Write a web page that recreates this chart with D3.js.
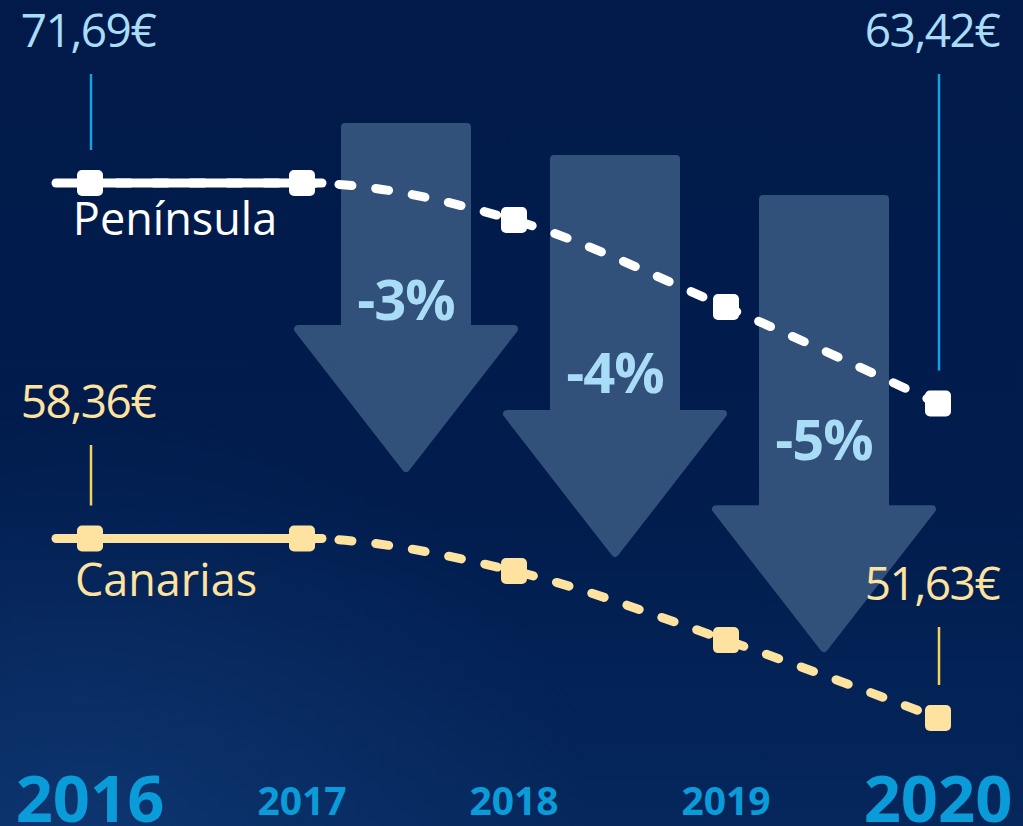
<!DOCTYPE html>
<html><head><meta charset="utf-8">
<script src="https://cdn.jsdelivr.net/npm/d3@7"></script>
<style>html,body{margin:0;padding:0;background:#011b4b;overflow:hidden}svg{display:block}</style>
</head><body>
<svg id="chart" width="1023" height="826"></svg>
<script>
// ---- data ----
const years = [2016, 2017, 2018, 2019, 2020];
const peninsula = [71.69, 71.69, 70.30, 67.04, 63.42];
const canarias = [58.36, 58.36, 57.14, 54.55, 51.63];
const seriesNames = ["Península", "Canarias"];
const changeLabels = ["-3%", "-4%", "-5%"];
const arrowTop = [73.94, 72.74, 71.24];   // value where each arrow starts
const arrowTip = [60.85, 57.67, 54.10];   // value where each arrow tip ends
const changeLabelAt = [66.55, 63.82, 61.30];
const bigYears = [2016, 2020];

// ---- setup ----
const W = 1023, H = 826;
const svg = d3.select("#chart");
const FONT = "'Open Sans', 'Noto Sans', sans-serif";
const fmt = d3.formatLocale({decimal: ",", thousands: ".", grouping: [3], currency: ["", "€"]}).format("$.2f");

const x = d3.scaleLinear().domain([2016, 2020]).range([90, 938]);
const y = d3.scaleLinear().domain([51.63, 71.69]).range([718, 183]);

// background
const defs = svg.append("defs");
const lg = defs.append("linearGradient").attr("id", "bg").attr("x1", 0).attr("y1", 0).attr("x2", 0).attr("y2", 1);
lg.append("stop").attr("offset", "0%").attr("stop-color", "#011a4a");
lg.append("stop").attr("offset", "60%").attr("stop-color", "#011c4d");
lg.append("stop").attr("offset", "100%").attr("stop-color", "#05275c");
const rg = defs.append("radialGradient").attr("id", "glow").attr("cx", 0.08).attr("cy", 1.0).attr("r", 0.5);
rg.append("stop").attr("offset", "0%").attr("stop-color", "#1a4a8c").attr("stop-opacity", 0.4);
rg.append("stop").attr("offset", "100%").attr("stop-color", "#1a4a8c").attr("stop-opacity", 0);
svg.append("rect").attr("width", W).attr("height", H).attr("fill", "url(#bg)");
svg.append("rect").attr("width", W).attr("height", H).attr("fill", "url(#glow)");

// arrows
const arrowColor = "#31507a";
const shaftHalf = 61, headHalf = 108, headH = 139;
changeLabels.forEach((lab, i) => {
  const cx = (x(years[i + 1]) + x(years[i + 2])) / 2 - 2 - i * 3;
  const top = y(arrowTop[i]) + 4, tip = y(arrowTip[i]) - 4, hy = tip - headH;
  const p = d3.path();
  p.moveTo(cx - shaftHalf, top); p.lineTo(cx + shaftHalf, top); p.lineTo(cx + shaftHalf, hy);
  p.lineTo(cx + headHalf, hy); p.lineTo(cx, tip); p.lineTo(cx - headHalf, hy);
  p.lineTo(cx - shaftHalf, hy); p.closePath();
  svg.append("path").attr("d", p.toString()).attr("fill", arrowColor)
    .attr("stroke", arrowColor).attr("stroke-width", 8).attr("stroke-linejoin", "round");
  svg.append("text").attr("x", cx).attr("y", y(changeLabelAt[i]))
    .attr("text-anchor", "middle").attr("font-family", FONT).attr("font-weight", 700)
    .attr("font-size", 56).attr("fill", "#a9dcf6").attr("letter-spacing", -1).text(lab);
});

// series
const series = [
  {name: seriesNames[0], values: peninsula, color: "#ffffff", valColor: "#a9dcf6", connColor: "#1a9fe0"},
  {name: seriesNames[1], values: canarias, color: "#fee2a0", valColor: "#fee2a0", connColor: "#f3d35a"}
];
const line = d3.line().x(d => x(d[0])).y(d => y(d[1])).curve(d3.curveMonotoneX);
const period = 37;
series.forEach((s, si) => {
  const pts = years.map((yr, i) => [yr, s.values[i]]);
  const firstLen = x(years[1]) - x(years[0]);
  const off = period - (firstLen % period);
  // dashed curve
  svg.append("path").attr("d", line(pts)).attr("fill", "none").attr("stroke", s.color)
    .attr("stroke-width", 9).attr("stroke-linecap", "round")
    .attr("stroke-dasharray", "13 24").attr("stroke-dashoffset", off);
  // solid part
  svg.append("line").attr("x1", x(years[0]) - 34).attr("x2", x(years[1]) + 20)
    .attr("y1", y(s.values[0])).attr("y2", y(s.values[1]))
    .attr("stroke", s.color).attr("stroke-width", 9).attr("stroke-linecap", "round");
  // markers
  svg.selectAll(null).data(pts).enter().append("rect")
    .attr("x", d => x(d[0]) - 13).attr("y", d => y(d[1]) - 13)
    .attr("width", 26).attr("height", 26).attr("rx", 5).attr("fill", s.color);
  // name label
  svg.append("text").attr("x", x(years[0]) + 85 - si * 9).attr("y", y(s.values[0]) + (si ? 57 : 52))
    .attr("text-anchor", "middle").attr("font-family", FONT).attr("font-size", 45)
    .attr("fill", s.color).text(s.name);
  // end value labels
  [0, years.length - 1].forEach(i => {
    const xv = x(years[i]);
    const vy = y(s.values[i]);
    const base = si === 0 ? 47 : (i === 0 ? 418 : 600);
    svg.append("text").attr("x", xv + (i === 0 ? -2 : -6)).attr("y", base)
      .attr("text-anchor", "middle").attr("font-family", FONT).attr("font-size", 46)
      .attr("fill", s.valColor).attr("letter-spacing", -1.5).text(fmt(s.values[i]));
    svg.append("line").attr("x1", xv + 1).attr("x2", xv + 1)
      .attr("y1", base + 27).attr("y2", vy - 33)
      .attr("stroke", s.connColor).attr("stroke-width", 2.5);
  });
});

// year labels
svg.selectAll(null).data(years).enter().append("text")
  .attr("x", d => x(d)).attr("y", d => bigYears.includes(d) ? 822 : 815)
  .attr("text-anchor", "middle").attr("font-family", FONT).attr("font-weight", 700)
  .attr("font-size", d => bigYears.includes(d) ? 65 : 39)
  .attr("fill", "#0a9bd9").text(d => d);
</script>
</body></html>
